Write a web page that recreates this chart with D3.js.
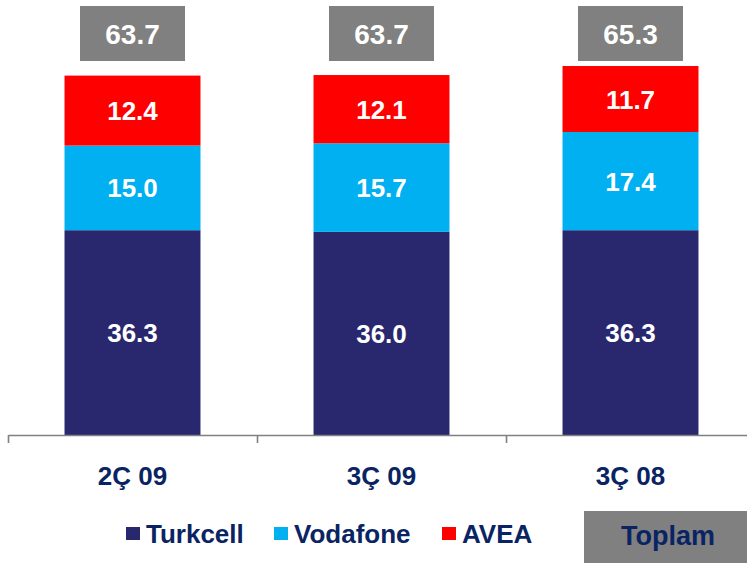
<!DOCTYPE html>
<html>
<head>
<meta charset="utf-8">
<script src="https://cdn.jsdelivr.net/npm/d3@7"></script>
<style>
  body { margin: 0; background: #fff; }
  svg { display: block; font-family: Arial, "Liberation Sans", sans-serif; font-weight: bold; }
</style>
</head>
<body>
<svg id="chart"></svg>
<script>
// data
const categories = ["2Ç 09", "3Ç 09", "3Ç 08"];
const turkcell = [36.3, 36.0, 36.3];
const vodafone = [15.0, 15.7, 17.4];
const avea = [12.4, 12.1, 11.7];
const totals = ["63.7", "63.7", "65.3"];
const seriesNames = ["Turkcell", "Vodafone", "AVEA"];
const totalLabel = "Toplam";

const [w, h] = [747, 563];
const colors = {Turkcell: "#29286f", Vodafone: "#00b0f0", AVEA: "#ff0000"};
const navy = "#0a2463";
const grey = "#808080";

const svg = d3.select("#chart").attr("width", w).attr("height", h);

// rows for the stack
const rows = categories.map((c, i) => ({cat: c, Turkcell: turkcell[i], Vodafone: vodafone[i], AVEA: avea[i]}));
const stacked = d3.stack().keys(seriesNames)(rows);

// scales
const xScale = d3.scaleBand().domain(categories).range([8, 755]).paddingInner(0.454).paddingOuter(0.227);
const yScale = d3.scaleLinear().domain([0, 77.1]).range([435, 0]);
const step = xScale.step();
const edgeScale = d3.scaleLinear().domain([0, categories.length]).range([8, 8 + step * categories.length]);

// bars
const layers = svg.selectAll("g.layer").data(stacked).enter().append("g")
  .attr("class", "layer").attr("fill", d => colors[d.key]);

layers.selectAll("rect").data(d => d).enter().append("rect")
  .attr("x", d => xScale(d.data.cat))
  .attr("width", xScale.bandwidth())
  .attr("y", d => yScale(d[1]))
  .attr("height", d => yScale(d[0]) - yScale(d[1]));

// value labels
layers.selectAll("text").data(d => d.map(p => ({p, key: d.key}))).enter().append("text")
  .attr("x", d => xScale(d.p.data.cat) + xScale.bandwidth() / 2)
  .attr("y", d => (yScale(d.p[0]) + yScale(d.p[1])) / 2 + 9.5)
  .attr("text-anchor", "middle")
  .attr("fill", "#fff")
  .style("font-size", "26px")
  .text(d => d.p.data[d.key].toFixed(1));

// axis line with ticks at category edges
const edgeAxis = d3.axisBottom(edgeScale).tickValues(d3.range(categories.length + 1))
  .tickSize(8).tickSizeOuter(0).tickFormat("");
const gAxis = svg.append("g").attr("transform", "translate(0, 435)").call(edgeAxis);
gAxis.selectAll("path, line").attr("stroke", grey).attr("stroke-width", 1.6);

// category labels
const catAxis = d3.axisBottom(xScale).tickSize(0).tickPadding(0);
const gCat = svg.append("g").attr("transform", "translate(0, 466)").call(catAxis);
gCat.select(".domain").remove();
gCat.selectAll("text")
  .attr("fill", navy)
  .attr("dy", "0.74em")
  .style("font-size", "26px")
  .style("font-family", "Arial, 'Liberation Sans', sans-serif")
  .style("font-weight", "bold");

// total boxes
const boxW = 105;
const totalG = svg.selectAll("g.total").data(categories).enter().append("g").attr("class", "total");
totalG.append("rect")
  .attr("x", d => xScale(d) + xScale.bandwidth() / 2 - boxW / 2)
  .attr("y", 6).attr("width", boxW).attr("height", 55)
  .attr("fill", grey);
totalG.append("text")
  .attr("x", d => xScale(d) + xScale.bandwidth() / 2)
  .attr("y", 43.5)
  .attr("text-anchor", "middle")
  .attr("fill", "#fff")
  .style("font-size", "28px")
  .text((d, i) => totals[i]);

// legend
const legendX = [126, 274, 442];
const legend = svg.selectAll("g.legend").data(seriesNames).enter().append("g")
  .attr("class", "legend")
  .attr("transform", (d, i) => `translate(${legendX[i]}, 527)`);
legend.append("rect").attr("width", 14).attr("height", 13).attr("fill", d => colors[d]);
legend.append("text").attr("x", 20).attr("y", 16)
  .attr("fill", navy).style("font-size", "26px").text(d => d);

// "Toplam" box
svg.append("rect").attr("x", 584).attr("y", 511).attr("width", 163).attr("height", 52).attr("fill", grey);
svg.append("text").attr("x", 668).attr("y", 545).attr("text-anchor", "middle")
  .attr("fill", navy).style("font-size", "27px").text(totalLabel);
</script>
</body>
</html>
